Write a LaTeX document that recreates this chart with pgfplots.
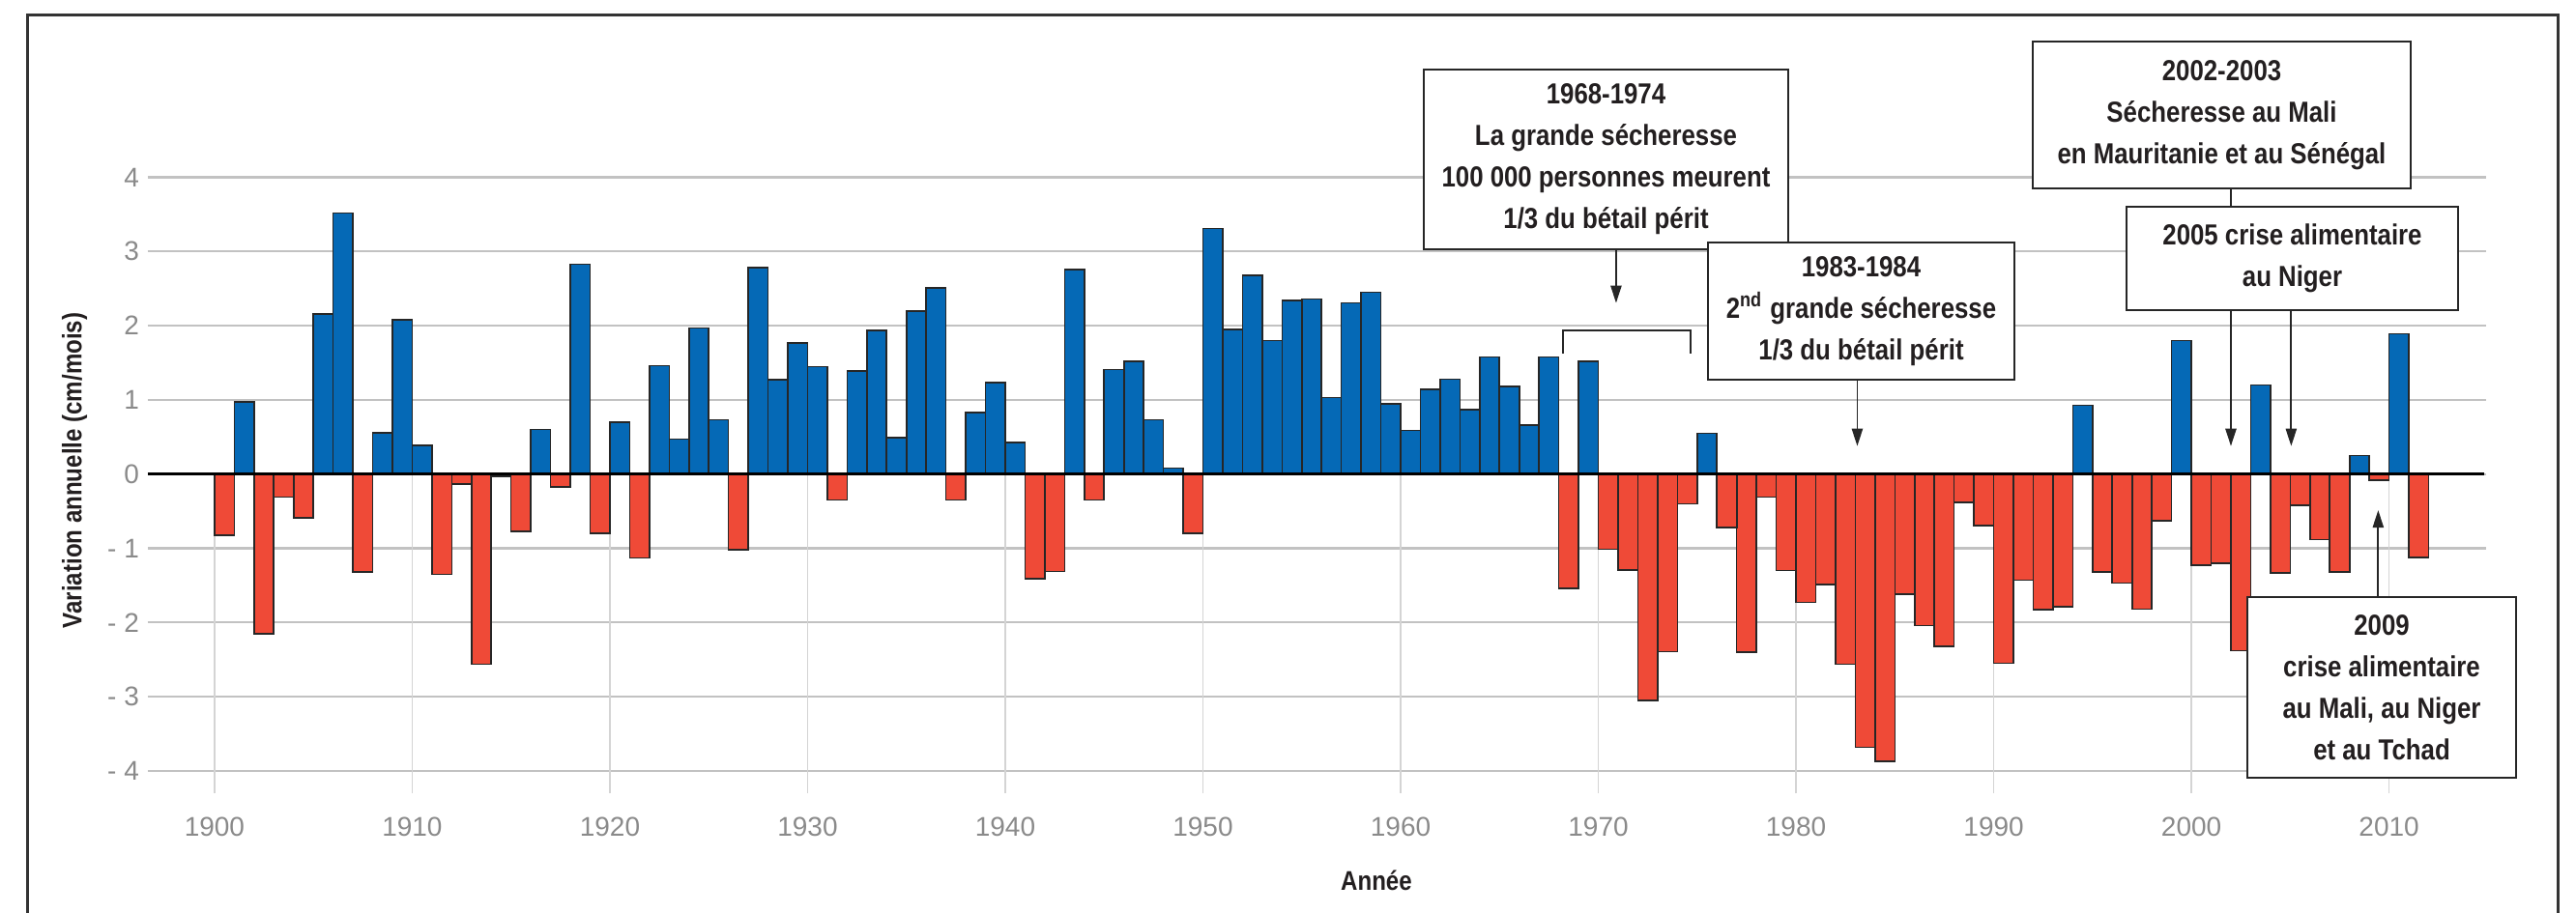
\documentclass[border=0pt]{standalone}
\usepackage{fontspec}
\setmainfont{Liberation Sans}
\newfontfamily\condfont[FakeStretch=0.86]{Liberation Sans}
\usepackage{pgfplots}
\usepackage{pgfplotstable}
\pgfplotsset{compat=1.18}
\usetikzlibrary{arrows.meta}

\definecolor{barblue}{HTML}{0569B6}
\definecolor{barred}{HTML}{EF4A37}
\definecolor{gridgray}{HTML}{C2C2C2}
\definecolor{vgridgray}{HTML}{D4D4D4}
\definecolor{tickgray}{HTML}{8A8A8A}
\definecolor{inkdark}{HTML}{231F20}

\newcommand\annotfont{\condfont\bfseries\fontsize{7.5}{10.75}\selectfont}
\newcommand\labfont{\condfont\bfseries\fontsize{7}{8}\selectfont}
\newcommand\tickfont{\fontsize{7}{8}\selectfont}

\tikzset{
  arr/.style={black!85, line width=0.45pt, -{Triangle[length=4.5pt,width=2.8pt]}},
  box/.style={draw=black!85, line width=0.6pt, fill=white, inner sep=0pt, align=center, font=\annotfont, text=inkdark}
}

\pgfplotstableread{
year val
1900 -0.82
1901 0.97
1902 -2.15
1903 -0.31
1904 -0.59
1905 2.16
1906 3.52
1907 -1.32
1908 0.56
1909 2.08
1910 0.39
1911 -1.35
1912 -0.13
1913 -2.56
1914 -0.03
1915 -0.77
1916 0.60
1917 -0.17
1918 2.83
1919 -0.80
1920 0.70
1921 -1.13
1922 1.46
1923 0.47
1924 1.97
1925 0.73
1926 -1.02
1927 2.78
1928 1.27
1929 1.77
1930 1.45
1931 -0.35
1932 1.39
1933 1.94
1934 0.49
1935 2.20
1936 2.51
1937 -0.35
1938 0.83
1939 1.23
1940 0.43
1941 -1.41
1942 -1.31
1943 2.76
1944 -0.35
1945 1.41
1946 1.52
1947 0.73
1948 0.08
1949 -0.80
1950 3.31
1951 1.95
1952 2.68
1953 1.80
1954 2.34
1955 2.36
1956 1.03
1957 2.31
1958 2.45
1959 0.95
1960 0.59
1961 1.14
1962 1.28
1963 0.87
1964 1.58
1965 1.18
1966 0.66
1967 1.58
1968 -1.54
1969 1.52
1970 -1.01
1971 -1.29
1972 -3.05
1973 -2.39
1974 -0.40
1975 0.55
1976 -0.72
1977 -2.40
1978 -0.31
1979 -1.30
1980 -1.73
1981 -1.49
1982 -2.56
1983 -3.68
1984 -3.87
1985 -1.62
1986 -2.04
1987 -2.32
1988 -0.38
1989 -0.69
1990 -2.55
1991 -1.43
1992 -1.83
1993 -1.79
1994 0.93
1995 -1.32
1996 -1.47
1997 -1.82
1998 -0.63
1999 1.80
2000 -1.23
2001 -1.20
2002 -2.38
2003 1.20
2004 -1.33
2005 -0.42
2006 -0.88
2007 -1.32
2008 0.25
2009 -0.08
2010 1.89
2011 -1.12
}\sahel

\begin{document}
\begin{tikzpicture}
\path[use as bounding box] (0,0) rectangle (666.25pt,236pt);
\draw[line width=0.75pt, black!80] (7pt,-2pt) -- (7pt,232pt) -- (661.5pt,232pt) -- (661.5pt,-2pt);
\begin{axis}[
  at={(38.25pt,30.75pt)}, anchor=south west,
  scale only axis, width=604.75pt, height=159.375pt,
  xmin=1896.63, xmax=2014.91, ymin=-4.3, ymax=4,
  axis line style={draw=none},
  major tick length=0pt,
  xtick={1900,1910,...,2010},
  xticklabels={1900,1910,1920,1930,1940,1950,1960,1970,1980,1990,2000,2010},
  ytick={-4,-3,...,4},
  yticklabels={- 4,- 3,- 2,- 1,0,1,2,3,4},
  ymajorgrids, grid style={gridgray, line width=0.55pt},
  /pgf/number format/assume math mode=true,
  xticklabel style={font=\tickfont, text=tickgray, yshift=-2.75pt},
  yticklabel style={font=\tickfont, text=tickgray, xshift=1.25pt},
  xlabel={Année},
  ylabel={Variation annuelle (cm/mois)},
  xlabel style={font=\labfont, text=inkdark, at={(axis description cs:0.5254,-0.1413)}, anchor=center},
  ylabel style={font=\labfont, text=inkdark, at={(axis description cs:-0.0314,0.524)}, anchor=center},
  clip=false,
]
\pgfplotsinvokeforeach{1900,1910,1920,1930,1940,1950,1960,1970,1980,1990,2000,2010}{
  \draw[vgridgray, line width=0.4pt] (axis cs:#1,-4.3) -- (axis cs:#1,0);
}
\addplot[ybar, bar width=1, bar shift=0pt, fill=barblue, draw=black!85, line width=0.4pt,
  restrict y to domain=0:10] table[x expr=\thisrow{year}+0.5, y=val] {\sahel};
\addplot[ybar, bar width=1, bar shift=0pt, fill=barred, draw=black!85, line width=0.4pt,
  restrict y to domain=-10:0] table[x expr=\thisrow{year}+0.5, y=val] {\sahel};
\draw[black, line width=0.8pt] (axis cs:1896.63,0) -- (axis cs:2014.8,0);
\draw[arr] (axis cs:1970.9,3.03) -- (axis cs:1970.9,2.306);
\draw[black!85, line width=0.45pt] (axis cs:1968.2,1.624) -- (axis cs:1968.2,1.936) -- (axis cs:1974.65,1.936) -- (axis cs:1974.65,1.624);
\draw[arr] (axis cs:1983.1,1.27) -- (axis cs:1983.1,0.378);
\draw[arr] (axis cs:2002.0,3.85) -- (axis cs:2002.0,0.378);
\draw[arr] (axis cs:2005.05,2.21) -- (axis cs:2005.05,0.378);
\draw[arr] (axis cs:2009.45,-1.66) -- (axis cs:2009.45,-0.486);
\end{axis}
\node[box, minimum width=94.25pt, minimum height=46.5pt] at (415.375pt,194.75pt)
  {1968-1974\\La grande sécheresse\\100 000 personnes meurent\\1/3 du bétail périt};
\node[box, minimum width=79.25pt, minimum height=35.5pt] at (481.375pt,155.5pt)
  {1983-1984\\2\textsuperscript{nd} grande sécheresse\\1/3 du bétail périt};
\node[box, minimum width=97.75pt, minimum height=38pt] at (574.625pt,206.25pt)
  {2002-2003\\Sécheresse au Mali\\en Mauritanie et au Sénégal};
\node[box, minimum width=85.75pt, minimum height=26.75pt] at (592.875pt,169.125pt)
  {2005 crise alimentaire\\au Niger};
\node[box, minimum width=69.5pt, minimum height=46.75pt] at (616pt,58.125pt)
  {2009\\crise alimentaire\\au Mali, au Niger\\et au Tchad};
\end{tikzpicture}
\end{document}
